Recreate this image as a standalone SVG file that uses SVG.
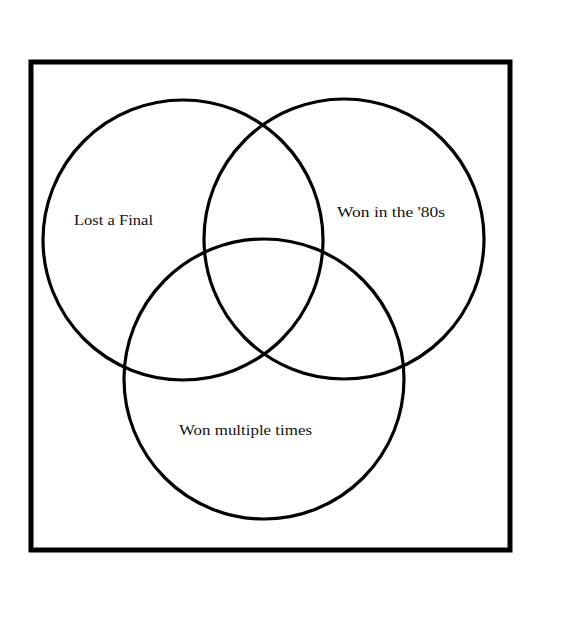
<svg xmlns="http://www.w3.org/2000/svg" width="563" height="621" viewBox="0 0 563 621">
<style>
.c{fill:none;stroke:#000;stroke-width:3.2}
.t{font-family:"Liberation Serif","DejaVu Serif",serif;font-size:15px;fill:#111}
</style>
<rect width="563" height="621" fill="#fff"/>
<rect x="31" y="62" width="479" height="488" fill="none" stroke="#000" stroke-width="5"/>
<g id="lost-a-final">
<circle class="c" cx="183" cy="240" r="140"/>
<text class="t" x="74" y="225" textLength="79" lengthAdjust="spacingAndGlyphs">Lost a Final</text>
</g>
<g id="won-80s">
<circle class="c" cx="344" cy="239" r="140"/>
<text class="t" x="337" y="217" textLength="108" lengthAdjust="spacingAndGlyphs">Won in the '80s</text>
</g>
<g id="won-multiple">
<circle class="c" cx="264" cy="379" r="140"/>
<text class="t" x="179" y="435" textLength="133" lengthAdjust="spacingAndGlyphs">Won multiple times</text>
</g>
<g id="connectors"/>
</svg>
